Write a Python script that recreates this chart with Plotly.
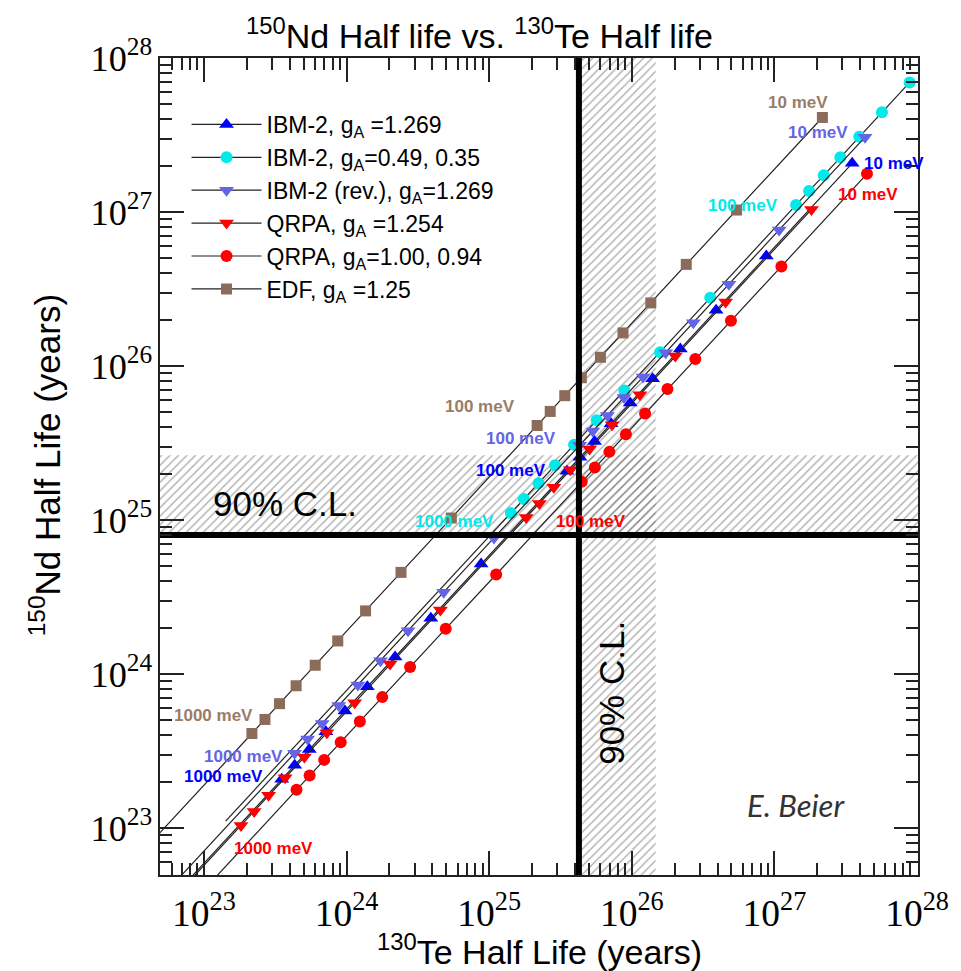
import plotly.graph_objects as go

# ---------------- data ----------------
masses_meV = [1000, 900, 800, 700, 600, 500, 400, 300, 200, 100,
              90, 80, 70, 60, 50, 40, 30, 20, 10]

# IBM-2, gA = 1.269
ibm2_te = [3.51e23, 4.33e23, 5.48e23, 7.16e23, 9.75e23, 1.40e24, 2.19e24, 3.90e24, 8.78e24,
           3.51e25, 4.33e25, 5.48e25, 7.16e25, 9.75e25, 1.40e26, 2.19e26, 3.90e26, 8.78e26, 3.51e27]
ibm2_nd = [2.07e23, 2.56e23, 3.23e23, 4.22e23, 5.75e23, 8.28e23, 1.29e24, 2.30e24, 5.18e24,
           2.07e25, 2.56e25, 3.23e25, 4.22e25, 5.75e25, 8.28e25, 1.29e26, 2.30e26, 5.18e26, 2.07e27]

# IBM-2, gA = 0.49, 0.35 (1000 ... 40 meV)
ibm2q_te = [1.42e25, 1.75e25, 2.22e25, 2.90e25, 3.94e25, 5.68e25, 8.88e25, 1.58e26, 3.55e26,
            1.42e27, 1.75e27, 2.22e27, 2.90e27, 3.94e27, 5.68e27, 8.88e27]
ibm2q_nd = [1.11e25, 1.37e25, 1.73e25, 2.27e25, 3.08e25, 4.44e25, 6.94e25, 1.23e26, 2.78e26,
            1.11e27, 1.37e27, 1.73e27, 2.27e27, 3.08e27, 4.44e27, 6.94e27]

# IBM-2 (rev.), gA = 1.269
ibm2r_te = [4.32e23, 5.33e23, 6.75e23, 8.82e23, 1.20e24, 1.73e24, 2.70e24, 4.80e24, 1.08e25,
            4.32e25, 5.33e25, 6.75e25, 8.82e25, 1.20e26, 1.73e26, 2.70e26, 4.80e26, 1.08e27, 4.32e27]
ibm2r_nd = [3.06e23, 3.78e23, 4.78e23, 6.24e23, 8.50e23, 1.22e24, 1.91e24, 3.40e24, 7.65e24,
            3.06e25, 3.78e25, 4.78e25, 6.24e25, 8.50e25, 1.22e26, 1.91e26, 3.40e26, 7.65e26, 3.06e27]

# QRPA, gA = 1.254
qrpa_te = [1.82e23, 2.25e23, 2.84e23, 3.71e23, 5.06e23, 7.28e23, 1.14e24, 2.02e24, 4.55e24,
           1.82e25, 2.25e25, 2.84e25, 3.71e25, 5.06e25, 7.28e25, 1.14e26, 2.02e26, 4.55e26, 1.82e27]
qrpa_nd = [1.04e23, 1.28e23, 1.63e23, 2.12e23, 2.89e23, 4.16e23, 6.50e23, 1.16e24, 2.60e24,
           1.04e25, 1.28e25, 1.63e25, 2.12e25, 2.89e25, 4.16e25, 6.50e25, 1.16e26, 2.60e26, 1.04e27]

# QRPA, gA = 1.00, 0.94
qrpaq_te = [4.46e23, 5.51e23, 6.97e23, 9.10e23, 1.24e24, 1.78e24, 2.79e24, 4.96e24, 1.12e25,
            4.46e25, 5.51e25, 6.97e25, 9.10e25, 1.24e26, 1.78e26, 2.79e26, 4.96e26, 1.12e27, 4.46e27]
qrpaq_nd = [1.77e23, 2.19e23, 2.77e23, 3.61e23, 4.92e23, 7.08e23, 1.11e24, 1.97e24, 4.43e24,
            1.77e25, 2.19e25, 2.77e25, 3.61e25, 4.92e25, 7.08e25, 1.11e26, 1.97e26, 4.43e26, 1.77e27]

# EDF, gA = 1.25
edf_te = [2.17e23, 2.68e23, 3.39e23, 4.43e23, 6.03e23, 8.68e23, 1.36e24, 2.41e24, 5.43e24,
          2.17e25, 2.68e25, 3.39e25, 4.43e25, 6.03e25, 8.68e25, 1.36e26, 2.41e26, 5.43e26, 2.17e27]
edf_nd = [4.11e23, 5.07e23, 6.42e23, 8.39e23, 1.14e24, 1.64e24, 2.57e24, 4.57e24, 1.03e25,
          4.11e25, 5.07e25, 6.42e25, 8.39e25, 1.14e26, 1.64e26, 2.57e26, 4.57e26, 1.03e27, 4.11e27]

series_names = ["IBM-2, g<sub>A</sub> =1.269",
                "IBM-2, g<sub>A</sub>=0.49, 0.35",
                "IBM-2 (rev.), g<sub>A</sub>=1.269",
                "QRPA, g<sub>A</sub> =1.254",
                "QRPA, g<sub>A</sub>=1.00, 0.94",
                "EDF, g<sub>A</sub> =1.25"]

# 90% C.L. limits and shaded bands
te_limit = 4.26e25
te_band_edge = 1.47e26
nd_limit = 8.0e24
nd_band_edge = 2.63e25

mass_label_text = ["10 meV", "100 meV", "1000 meV"]

# ---------------- styling ----------------
BLUE = "#0000ff"
CYAN = "#00eaea"
SLATE = "#6464e6"
RED = "#ff0000"
BROWN = "#8c6b5a"
BROWN_TXT = "#9a7c68"

series = [
    (ibm2_te, ibm2_nd, BLUE, "triangle-up", 13),
    (ibm2q_te, ibm2q_nd, CYAN, "circle", 12),
    (ibm2r_te, ibm2r_nd, SLATE, "triangle-down", 13),
    (qrpa_te, qrpa_nd, RED, "triangle-down", 13),
    (qrpaq_te, qrpaq_nd, RED, "circle", 12),
    (edf_te, edf_nd, BROWN, "square", 11),
]

AX_LO, AX_HI = 1e22, 1e29
X_RANGE = [22.692, 28.007]
Y_RANGE = [22.695, 28.0]

fig = go.Figure()

# hatched bands
hatch = dict(shape="/", fgcolor="#555555", bgcolor="rgba(0,0,0,0)", size=6, solidity=0.22)
fig.add_trace(go.Scatter(x=[AX_LO, AX_HI, AX_HI, AX_LO, AX_LO],
                         y=[nd_limit, nd_limit, nd_band_edge, nd_band_edge, nd_limit],
                         fill="toself", mode="none", fillpattern=hatch,
                         fillcolor="rgba(0,0,0,0)", showlegend=False, hoverinfo="skip"))
fig.add_trace(go.Scatter(x=[te_limit, te_band_edge, te_band_edge, te_limit, te_limit],
                         y=[AX_LO, AX_LO, AX_HI, AX_HI, AX_LO],
                         fill="toself", mode="none", fillpattern=hatch,
                         fillcolor="rgba(0,0,0,0)", showlegend=False, hoverinfo="skip"))

# guide-line extension below the 1000 meV point (slope 1 in log-log)
for xs, ys, col, sym, sz in series:
    fig.add_trace(go.Scatter(x=[xs[0] * 1e-2, xs[0]], y=[ys[0] * 1e-2, ys[0]],
                             mode="lines", line=dict(color="#222", width=1.2),
                             showlegend=False, hoverinfo="skip"))

for (xs, ys, col, sym, sz), name in zip(series, series_names):
    fig.add_trace(go.Scatter(x=xs, y=ys, name=name, mode="lines+markers",
                             line=dict(color="#222", width=1.2),
                             marker=dict(symbol=sym, size=sz, color=col, line=dict(width=0))))

# thick 90% C.L. lines
fig.add_trace(go.Scatter(x=[AX_LO, AX_HI], y=[nd_limit, nd_limit], mode="lines",
                         line=dict(color="black", width=6), showlegend=False, hoverinfo="skip"))
fig.add_trace(go.Scatter(x=[te_limit, te_limit], y=[AX_LO, AX_HI], mode="lines",
                         line=dict(color="black", width=6), showlegend=False, hoverinfo="skip"))

W, H = 961, 971
L, R, T, B = 160, 41, 58, 96
PW, PH = W - L - R, H - T - B


def px2paper(px, py):
    return (px - L) / PW, (H - B - py) / PH


annotations = []


def add_text(px, py, text, size, color="black", family="Liberation Sans", angle=0, bold=False,
             italic=False):
    xp, yp = px2paper(px, py)
    t = f"<b>{text}</b>" if bold else text
    t = f"<i>{t}</i>" if italic else t
    annotations.append(dict(x=xp, y=yp, xref="paper", yref="paper", text=t, showarrow=False,
                            xanchor="center", yanchor="middle", textangle=angle,
                            font=dict(size=size, color=color, family=family)))


# mass labels
lab_font = 17
mass_labels = [
    (800, 102, 0, BROWN_TXT), (481, 407, 1, BROWN_TXT), (214, 715, 2, BROWN_TXT),
    (820, 132, 0, SLATE), (522, 438, 1, SLATE), (244, 756, 2, SLATE),
    (896, 163, 0, BLUE), (512, 470, 1, BLUE), (224, 776, 2, BLUE),
    (745, 205, 1, CYAN), (455, 521, 2, CYAN),
    (870, 195, 0, RED), (592, 521, 1, RED), (274, 848, 2, RED),
]
for px, py, k, col in mass_labels:
    add_text(px, py, mass_label_text[k], lab_font, col, bold=True)

add_text(285, 503, "90% C.L.", 35, "black")
add_text(612, 693, "90% C.L.", 35, "black", angle=-90)
add_text(798, 805, "E. Beier", 31, "#333333", family="Lato", italic=True)

# titles
add_text(480, 33, "<sup>150</sup>Nd Half life vs. <sup>130</sup>Te Half life", 34)
add_text(540, 950, "<sup>130</sup>Te Half Life (years)", 34)
add_text(45, 465, "<sup>150</sup>Nd Half Life (years)", 35, angle=-90)

axis_common = dict(type="log", showline=True, linecolor="#222", linewidth=2, mirror="allticks",
                   ticks="inside", ticklen=24, tickwidth=1.5, tickcolor="#222", dtick=1,
                   exponentformat="power", showgrid=False, zeroline=False,
                   minor=dict(ticks="inside", ticklen=12, tickwidth=1.5, tickcolor="#222",
                              dtick="D1", showgrid=False))

fig.update_layout(
    width=W, height=H, margin=dict(l=L, r=R, t=T, b=B),
    plot_bgcolor="white", paper_bgcolor="white",
    xaxis=dict(range=X_RANGE, tickfont=dict(family="Liberation Serif", size=30, color="black"),
               ticklabelstandoff=5, **axis_common),
    yaxis=dict(range=Y_RANGE, tickfont=dict(family="Liberation Serif", size=29, color="black"),
               **axis_common),
    legend=dict(x=0.035, y=0.945, xanchor="left", yanchor="top", bgcolor="rgba(0,0,0,0)",
                font=dict(family="Liberation Sans", size=23, color="black"),
                itemwidth=70, tracegroupgap=0),
    annotations=annotations,
)

fig.write_html("out.html")
